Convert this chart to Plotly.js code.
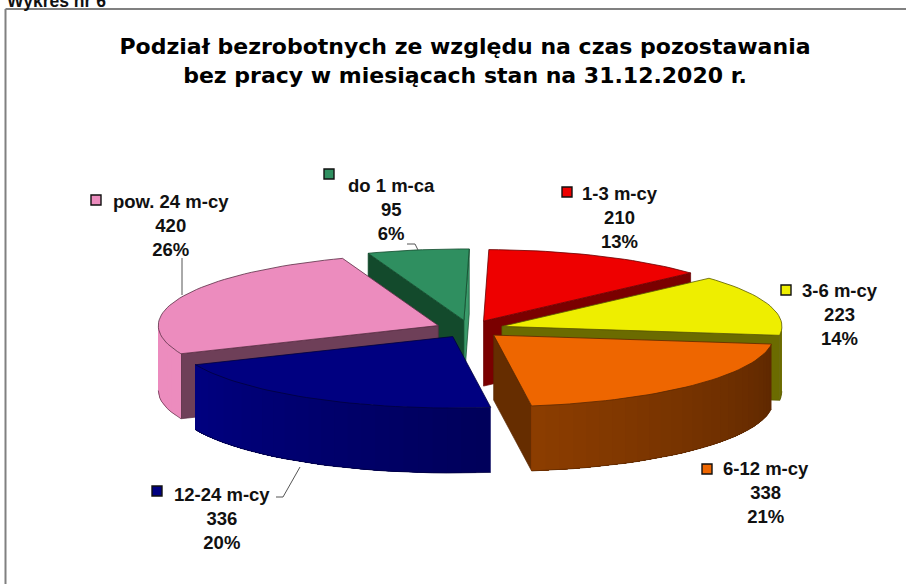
<!DOCTYPE html>
<html><head><meta charset="utf-8">
<script src="https://cdn.plot.ly/plotly-3.0.1.min.js"></script>
<style>html,body{margin:0;padding:0;background:#fff;overflow:hidden}</style>
</head><body><div id="chart" style="width:906px;height:584px"></div>
<script>
// ---- data ----
const categories = ["do 1 m-ca", "1-3 m-cy", "3-6 m-cy", "6-12 m-cy", "12-24 m-cy", "pow. 24 m-cy"];
const values = [95, 210, 223, 338, 336, 420];
const percentLabels = ["6%", "13%", "14%", "21%", "20%", "26%"];

// ---- styles ----
const topColors  = ["#2F8F60", "#EE0000", "#EEEE00", "#EE6600", "#000080", "#EC8CBE"];
const cutColors  = ["#134A2C", "#7A0000", "#6B6B00", "#662D00", "#000060", "#6E3F58"];
const cutEndColors = ["#3A9A6A", "#7A0000", "#6B6B00", "#662D00", "#000060", "#6E3F58"];
const wallStart  = ["#2F8F60", "#7A0000", "#6B6B00", "#5E2800", "#00005A", "#EC8CBE"];
const wallEnd    = ["#2F8F60", "#7A0000", "#6B6B00", "#8C3D00", "#000080", "#EC8CBE"];
const edgeColors = ["#124A2C", "#6A0000", "#5A5A00", "#5A2800", "#00003C", "#5A2F45"];
// painter's order: back slices first
const drawOrder = [0, 1, 2, 5, 3, 4];

// ---- 3D pie geometry, in plot units ----
const centre = [469.5, 329], rx = 280, ry = 71.5, depth = 65, pull = 34, startAngle = -20;
// label anchor, key marker, in plot units
const labelX = [391, 620, 840, 766, 222, 171];
const labelY = [209, 217, 314, 492, 518, 225];
const keyX = [329, 567, 786, 707, 157, 96];
const keyY = [174, 192, 290, 469, 491, 200];
const leaderX = [[407, 415, 418], [182, 182], [276, 283, 300]];
const leaderY = [[244, 244, 250], [258, 295], [497, 497, 467]];

const rad = d => d * Math.PI / 180;
const total = values.reduce((a, b) => a + b, 0);
const hex = c => [1, 3, 5].map(i => parseInt(c.substr(i, 2), 16));
const mix = (a, b, t) => {
  const A = hex(a), B = hex(b);
  return "rgb(" + A.map((v, i) => Math.round(v + (B[i] - v) * t)).join(",") + ")";
};
const traces = [];
function poly(xs, ys, fill, line, w) {
  traces.push({ type: "scatter", mode: "lines", x: xs.concat(xs[0]), y: ys.concat(ys[0]),
    fill: "toself", fillcolor: fill, line: { color: line, width: w },
    hoverinfo: "skip", showlegend: false });
}
let acc = startAngle;
const slices = values.map(v => { const s = { a: acc, b: acc + v / total * 360 }; acc = s.b; return s; });

drawOrder.forEach(i => {
  const { a, b } = slices[i];
  const mid = rad((a + b) / 2);
  const ax = centre[0] + pull * Math.sin(mid);
  const ay = centre[1] - pull * (ry / rx) * Math.cos(mid);
  const px = t => ax + rx * Math.sin(rad(t));
  const py = t => ay - ry * Math.cos(rad(t));
  // cut faces that look towards the viewer
  if (Math.sin(rad(a)) < 0) poly([ax, px(a), px(a), ax], [ay, py(a), py(a) + depth, ay + depth], cutColors[i], edgeColors[i], 0.7);
  if (Math.sin(rad(b)) > 0) poly([ax, px(b), px(b), ax], [ay, py(b), py(b) + depth, ay + depth], cutEndColors[i], edgeColors[i], 0.7);
  // outer wall: overlapping gradient strips with no outline
  const w0 = Math.max(a, 90), w1 = Math.min(b, 270);
  if (w1 > w0) {
    const n = Math.max(1, Math.ceil((w1 - w0) / 3));
    for (let k = 0; k < n; k++) {
      const t0 = w0 + (w1 - w0) * k / n;
      const c = mix(wallStart[i], wallEnd[i], (k + 0.5) / n);
      const xs = [], ys = [];
      // every strip runs to the end of the wall, so the next one paints over it and no seam shows
      const m = n - k;
      for (let j = 0; j <= m; j++) { const t = t0 + (w1 - t0) * j / m; xs.push(px(t)); ys.push(py(t)); }
      for (let j = m; j >= 0; j--) { const t = t0 + (w1 - t0) * j / m; xs.push(px(t)); ys.push(py(t) + depth); }
      poly(xs, ys, c, c, 0);
    }
    // lower rim
    const rimX = [], rimY = [];
    for (let k = 0; k <= n; k++) { const t = w0 + (w1 - w0) * k / n; rimX.push(px(t)); rimY.push(py(t) + depth); }
    traces.push({ type: "scatter", mode: "lines", x: rimX, y: rimY, line: { color: edgeColors[i], width: 0.7 }, hoverinfo: "skip", showlegend: false });
  }
  // top face
  const xs = [ax], ys = [ay];
  const steps = Math.ceil((b - a) / 2);
  for (let k = 0; k <= steps; k++) { const t = a + (b - a) * k / steps; xs.push(px(t)); ys.push(py(t)); }
  poly(xs, ys, topColors[i], edgeColors[i], 0.8);
});

// leader lines
leaderX.forEach((lx, i) => traces.push({ type: "scatter", mode: "lines", x: lx, y: leaderY[i],
  line: { color: "#555555", width: 1 }, hoverinfo: "skip", showlegend: false }));

// legend keys
traces.push({ type: "scatter", mode: "markers", x: keyX, y: keyY,
  marker: { symbol: "square", size: 10, color: topColors, line: { color: "#111111", width: 1.4 } },
  hoverinfo: "skip", showlegend: false });

const labelFont = { family: "Liberation Sans, Arial, sans-serif", size: 18.5, color: "#111111" };
const annotations = categories.map((c, i) => ({
  xref: "x", yref: "y", x: labelX[i], y: labelY[i], xanchor: "center", yanchor: "middle",
  showarrow: false, align: "center", font: labelFont,
  text: "<b>" + c + "</b><br><b>" + values[i] + "</b><br><b>" + percentLabels[i] + "</b>"
}));
annotations.push({ xref: "x", yref: "y", x: 5, y: 13, xanchor: "left", yanchor: "bottom", showarrow: false,
  font: { family: "Liberation Sans, Arial, sans-serif", size: 17.5, color: "#111111" }, text: "<b>Wykres nr 6</b>" });

const layout = {
  width: 906, height: 584, margin: { l: 0, r: 0, t: 0, b: 0 }, showlegend: false,
  paper_bgcolor: "#ffffff", plot_bgcolor: "#ffffff",
  title: { text: "<b>Podział bezrobotnych ze względu na czas pozostawania<br>bez pracy w miesiącach stan na 31.12.2020 r.</b>",
    x: 465 / 906, xanchor: "center", y: 1 - 54 / 584, yanchor: "middle",
    font: { family: "DejaVu Sans, Verdana, sans-serif", size: 22, color: "#000000" } },
  xaxis: { range: [0, 906], visible: false, fixedrange: true },
  yaxis: { range: [584, 0], visible: false, fixedrange: true },
  annotations,
  shapes: [
    { type: "line", xref: "x", yref: "y", x0: 5.5, y0: 9, x1: 906, y1: 9, line: { color: "#808080", width: 2 } },
    { type: "line", xref: "x", yref: "y", x0: 5.5, y0: 9, x1: 5.5, y1: 584, line: { color: "#808080", width: 2 } }
  ]
};
Plotly.newPlot("chart", traces, layout, { displayModeBar: false, staticPlot: true });
</script></body></html>
